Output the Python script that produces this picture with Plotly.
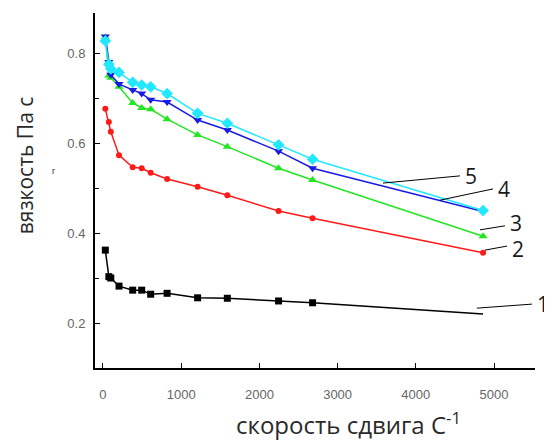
import plotly.graph_objects as go

# shear rate, 1/s
shear = [30, 75, 100, 205, 380, 495, 610, 820, 1210, 1590, 2245, 2680, 4860]

visc_1 = [0.362, 0.303, 0.300, 0.282, 0.273, 0.273, 0.264, 0.266, 0.256, 0.255, 0.249, 0.245, 0.220]
visc_2 = [0.676, 0.647, 0.625, 0.573, 0.546, 0.544, 0.534, 0.520, 0.503, 0.484, 0.449, 0.433, 0.356]
visc_3 = [0.835, 0.750, 0.745, 0.725, 0.689, 0.678, 0.675, 0.653, 0.618, 0.592, 0.544, 0.518, 0.393]
visc_4 = [0.837, 0.780, 0.752, 0.731, 0.718, 0.710, 0.696, 0.691, 0.651, 0.629, 0.582, 0.544, 0.448]
visc_5 = [0.827, 0.775, 0.765, 0.757, 0.735, 0.729, 0.725, 0.710, 0.666, 0.644, 0.596, 0.564, 0.450]

series_names = ["1", "2", "3", "4", "5"]
series_values = [visc_1, visc_2, visc_3, visc_4, visc_5]
colors = ["#000000", "#ff1a1a", "#22e622", "#1a1ae6", "#22e8ff"]
symbols = ["square", "circle", "triangle-up", "triangle-down", "diamond"]
msizes = [7, 6, 8, 8, 9]

# label leader lines: (x0, y0) on curve -> (x1, y1) label end
leader_start = [(4780, 0.233), (4885, 0.362), (4820, 0.407), (4310, 0.473), (3580, 0.511)]
leader_end = [(5486, 0.242), (5166, 0.371), (5140, 0.416), (4987, 0.498), (4565, 0.527)]
label_yshift = [0, -3, 3, 0, 0]

y_ticks = [0.2, 0.4, 0.6, 0.8]
y_ticktext = ["0.2", "0.4", "0.6", "0.8"]
x_ticks = [0, 1000, 2000, 3000, 4000, 5000]
x_ticktext = ["0", "1000", "2000", "3000", "4000", "5000"]

fig = go.Figure()
for i, (name, vals, c, s, ms) in enumerate(zip(series_names, series_values, colors, symbols, msizes)):
    op = [1.0] * len(vals)
    if i == 0:
        op[-1] = 0.0
    fig.add_trace(go.Scatter(
        x=shear, y=vals, mode="lines+markers", name=name,
        line=dict(color=c, width=1.5),
        marker=dict(color=c, symbol=s, size=ms, opacity=op),
        showlegend=False, cliponaxis=False,
    ))

for name, (x0, y0), (x1, y1), ys in zip(series_names, leader_start, leader_end, label_yshift):
    fig.add_shape(type="line", x0=x0, y0=y0, x1=x1, y1=y1, xref="x", yref="y",
                  line=dict(color="black", width=1))
    fig.add_annotation(x=x1, y=y1, xref="x", yref="y", text=name, showarrow=False,
                       xanchor="left", yanchor="middle", xshift=3, yshift=ys,
                       font=dict(family="Open Sans", size=21, color="#1a1a1a"))

fig.add_annotation(x=0.575, y=-0.155, xref="paper", yref="paper",
                   text="скорость сдвига С<sup>-1</sup>", showarrow=False,
                   xanchor="center", yanchor="middle",
                   font=dict(family="Open Sans", size=24, color="#2a2a2a"))
fig.add_annotation(x=-0.16, y=0.57, xref="paper", yref="paper",
                   text="вязкость Па с", showarrow=False, textangle=-90,
                   xanchor="center", yanchor="middle",
                   font=dict(family="Open Sans", size=21, color="#2a2a2a"))
fig.add_annotation(x=-0.102, y=0.556, xref="paper", yref="paper",
                   text="г", showarrow=False,
                   font=dict(family="Liberation Sans", size=9, color="#222"))

fig.update_xaxes(range=[-102, 5524], tickvals=x_ticks, ticktext=x_ticktext,
                 showline=True, linecolor="black", linewidth=2, showgrid=False,
                 zeroline=False, ticks="inside", ticklen=5, tickcolor="black",
                 ticklabelstandoff=13,
                 tickfont=dict(family="Liberation Sans", size=13, color="#666"))
fig.update_yaxes(range=[0.1, 0.889], tickvals=y_ticks, ticktext=y_ticktext,
                 showline=True, linecolor="black", linewidth=2, showgrid=False,
                 zeroline=False, ticks="inside", ticklen=5, tickcolor="black",
                 ticklabelstandoff=5,
                 minor=dict(tickvals=[0.3, 0.5, 0.7], ticks="inside", ticklen=4, tickcolor="black"),
                 tickfont=dict(family="Liberation Sans", size=13, color="#666"))

# page body adds an 8px offset, so the figure is 8px smaller on each used side
fig.update_layout(width=544, height=433, plot_bgcolor="white", paper_bgcolor="white",
                  margin=dict(l=87, r=17, t=5, b=73))

fig.write_html("out.html")
